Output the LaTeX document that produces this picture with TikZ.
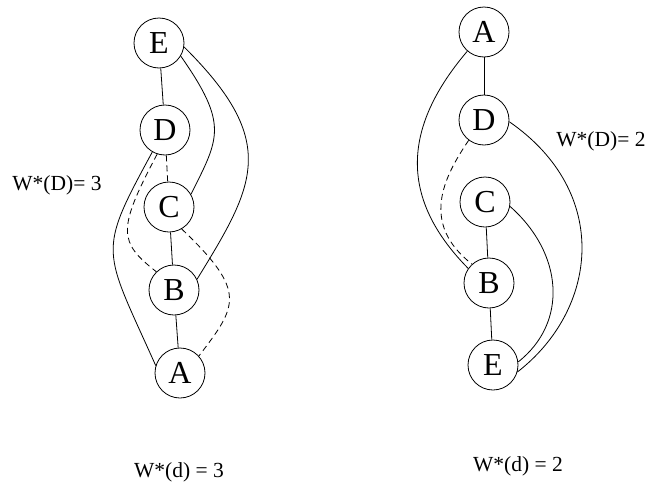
\documentclass[tikz,border=0pt]{standalone}
\usepackage{fontspec}
\setmainfont{Liberation Serif}
\begin{document}
\begin{tikzpicture}[x=1pt,y=-1pt,
  vtx/.style={draw, circle, minimum size=50pt, inner sep=0pt, font=\fontsize{32}{32}\selectfont, line width=0.8pt},
  edge/.style={line width=0.8pt},
  dsh/.style={edge, dash pattern=on 6pt off 4pt},
  lbl/.style={font=\fontsize{21.5}{21.5}\selectfont, inner sep=0pt}]
\useasboundingbox (0,0) rectangle (649,485);
% left graph
\node[vtx] (lE) at (159,43) {E};
\node[vtx] (lD) at (165,130) {D};
\node[vtx] (lC) at (169,207) {C};
\node[vtx] (lB) at (174,290) {B};
\node[vtx] (lA) at (180,373) {A};
\draw[edge] (lE) -- (lD);
\draw[dsh] (lD) -- (lC);
\draw[edge] (lC) -- (lB);
\draw[edge] (lB) -- (lA);
\draw[edge] (lE.-31) .. controls (229,125) and (219,138) .. (lC.30);
\draw[edge] (lE.-9) .. controls (280,142) and (255,185) .. (lB.25);
\draw[edge] (lD.-120) .. controls (96.5,254.7) and (102.8,247.2) .. (lA.163);
\draw[dsh] (lD.-108) .. controls (116.8,230.2) and (118.5,242.1) .. (lB.134);
\draw[dsh] (lC.-60) .. controls (248,292) and (237,306) .. (lA.42);
% right graph
\node[vtx] (rA) at (484,32) {A};
\node[vtx] (rD) at (484,120) {D};
\node[vtx] (rC) at (485,202) {C};
\node[vtx] (rB) at (489,283) {B};
\node[vtx] (rE) at (493,365) {E};
\draw[edge] (rA) -- (rD);
\draw[edge] (rC) -- (rB);
\draw[edge] (rB) -- (rE);
\draw[edge] (rA.-131) .. controls (396.3,134.5) and (405,204.2) .. (rB.145);
\draw[edge] (rD.-4) .. controls (611.6,192.6) and (598.1,309.4) .. (rE.-16);
\draw[dsh] (rD.-127) .. controls (443.1,177.9) and (420.2,223.8) .. (rB.132);
\draw[edge] (rC.-10) .. controls (563.3,253.4) and (568.4,322.3) .. (rE.7);
% labels
\node[lbl] (w1) at (57,185) {W*(D)= 3};
\node[lbl] (w2) at (601,141) {W*(D)= 2};
\node[lbl] (w3) at (179,472) {W*(d) = 3};
\node[lbl] (w4) at (518,466) {W*(d) = 2};
\end{tikzpicture}
\end{document}
